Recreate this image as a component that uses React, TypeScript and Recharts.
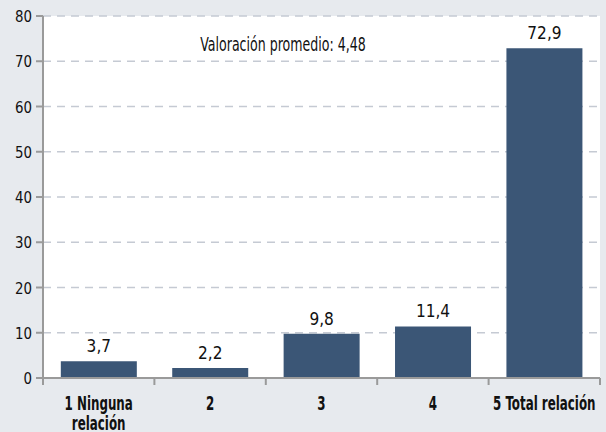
import React from 'react';
import { BarChart, Bar, XAxis, YAxis, CartesianGrid, LabelList, Customized } from 'recharts';

const categories = ['1 Ninguna relación', '2', '3', '4', '5 Total relación'];
const values = [3.7, 2.2, 9.8, 11.4, 72.9];
const yTicks = [0, 10, 20, 30, 40, 50, 60, 70, 80];
const annotation = 'Valoración promedio: 4,48';

const data = categories.map((c, i) => ({ name: c, value: values[i] }));

const FONT = "'DejaVu Sans Condensed', 'Liberation Sans Narrow', sans-serif";
const BG = '#e7eaee';
const BAR = '#3b5676';
const AXIS = '#9a9a9a';
const GRID = '#c5cad3';

const XTick = (props: any) => {
  const { x, y, payload, index } = props;
  const label: string = payload.value;
  const half = payload.offset || 0;
  const lines = label === '1 Ninguna relación' ? ['1 Ninguna', 'relación'] : [label];
  const isLast = index === categories.length - 1;
  return (
    <g>
      <line x1={x - half} x2={x - half} y1={y} y2={y + 7} stroke={AXIS} strokeWidth={2} />
      {isLast && <line x1={x + half} x2={x + half} y1={y} y2={y + 7} stroke={AXIS} strokeWidth={2} />}
      <text
        transform={`translate(${x},${y + 32}) scale(0.66,1)`}
        x={0}
        y={0}
        textAnchor="middle"
        fontFamily={FONT}
        fontSize={20}
        fontWeight="bold"
        fill="#111"
      >
        {lines.map((l, i) => (
          <tspan key={i} x={0} dy={i === 0 ? 0 : 20}>{l}</tspan>
        ))}
      </text>
    </g>
  );
};

const YTick = (props: any) => {
  const { x, y, payload } = props;
  return (
    <text
      transform={`translate(${x - 2},${y + 6}) scale(0.9,1)`}
      x={0}
      y={0}
      textAnchor="end"
      fontFamily={FONT}
      fontSize={16.5}
      fill="#111"
    >
      {payload.value}
    </text>
  );
};

const BarLabel = (props: any) => {
  const { x, y, width, value } = props;
  return (
    <text
      transform={`translate(${x + width / 2},${y - 9}) scale(0.95,1)`}
      x={0}
      y={0}
      textAnchor="middle"
      fontFamily={FONT}
      fontSize={18}
      fill="#111"
    >
      {String(value).replace('.', ',')}
    </text>
  );
};

const Annotation = () => (
  <text
    transform="translate(283,51) scale(0.7,1)"
    x={0}
    y={0}
    textAnchor="middle"
    fontFamily={FONT}
    fontSize={20}
    fill="#111"
  >
    {annotation}
  </text>
);

export default function App() {
  return (
    <div style={{ position: 'absolute', left: 0, top: 0, width: 606, height: 432, background: BG }}>
      <BarChart width={606} height={432} data={data} margin={{ top: 16, right: 6, bottom: 0, left: 0 }} barCategoryGap="16%">
        <CartesianGrid vertical={false} stroke={GRID} strokeDasharray="8 6" fill="#ffffff" strokeWidth={1.5} />
        <XAxis
          dataKey="name"
          height={54}
          interval={0}
          tick={<XTick />}
          axisLine={{ stroke: AXIS, strokeWidth: 2 }}
          tickLine={false}
          tickSize={0}
          tickMargin={0}
        />
        <YAxis
          width={43}
          domain={[0, 80]}
          ticks={yTicks}
          interval={0}
          tick={<YTick />}
          axisLine={{ stroke: AXIS, strokeWidth: 2 }}
          tickLine={{ stroke: AXIS, strokeWidth: 2 }}
          tickSize={7}
        />
        <Bar dataKey="value" fill={BAR} isAnimationActive={false}>
          <LabelList dataKey="value" content={<BarLabel />} />
        </Bar>
        <Customized component={Annotation} />
      </BarChart>
    </div>
  );
}
